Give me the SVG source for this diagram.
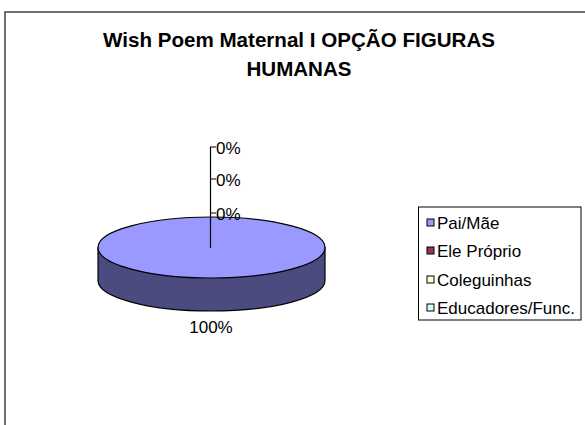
<svg xmlns="http://www.w3.org/2000/svg" width="585" height="425" viewBox="0 0 585 425">
<style>
.t{font-family:"Liberation Sans",Arial,sans-serif;fill:#000}
.title{font-size:20px;font-weight:bold}
.lbl{font-size:17px}
.leg{font-size:17px}
.sw{stroke:#000;stroke-width:1}
.ld{stroke:#000;stroke-width:1.2;fill:none}
</style>
<rect x="5" y="12" width="620" height="440" fill="#fff" stroke="#404040" stroke-width="1.5"/>
<g id="title">
<text class="t title" x="299" y="47" text-anchor="middle" textLength="392" lengthAdjust="spacingAndGlyphs">Wish Poem Maternal I OPÇÃO FIGURAS</text>
<text class="t title" x="299" y="76" text-anchor="middle" textLength="105" lengthAdjust="spacingAndGlyphs">HUMANAS</text>
</g>
<g id="pie">
<path d="M98,247.5 L98,280.5 A113.5,30.5 0 0 0 325,280.5 L325,247.5 Z" fill="#4B4B80" stroke="#000" stroke-width="1.2"/>
<ellipse cx="211.5" cy="247.5" rx="113.5" ry="30.5" fill="#9999FF" stroke="#000" stroke-width="1.2"/>
</g>
<g id="connectors">
<path class="ld" d="M210.5,248 V147 H216 M210.5,179 H216 M210.5,213 H216"/>
</g>
<g id="labels">
<text class="t lbl" x="216" y="154">0%</text>
<text class="t lbl" x="216" y="186">0%</text>
<text class="t lbl" x="216" y="220">0%</text>
<text class="t lbl" x="211" y="333" text-anchor="middle">100%</text>
</g>
<g id="legend">
<rect x="418.5" y="207" width="162.5" height="113" fill="#fff" stroke="#000" stroke-width="1"/>
<rect class="sw" x="427" y="219" width="7" height="7" fill="#9999FF"/>
<text class="t leg" x="437" y="228.5">Pai/Mãe</text>
<rect class="sw" x="427" y="247" width="7" height="7" fill="#993366"/>
<text class="t leg" x="437" y="256.5">Ele Próprio</text>
<rect class="sw" x="427" y="276" width="7" height="7" fill="#FFFFCC"/>
<text class="t leg" x="437" y="285.5">Coleguinhas</text>
<rect class="sw" x="427" y="304" width="7" height="7" fill="#CCFFFF"/>
<text class="t leg" x="437" y="313.5">Educadores/Func.</text>
</g>
</svg>
